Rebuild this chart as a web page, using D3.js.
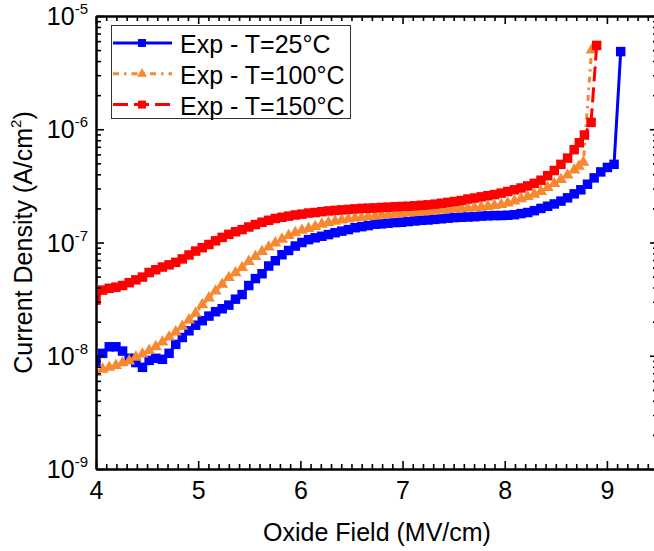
<!DOCTYPE html>
<html>
<head>
<meta charset="utf-8">
<script src="https://cdn.jsdelivr.net/npm/d3@7"></script>
<style>
body { margin: 0; background: #fff; }
svg text { font-family: "Liberation Sans", Arial, sans-serif; fill: #000; }
</style>
</head>
<body>
<div id="chart"></div>
<script>
// oxide field grid (MV/cm), shared by the three sweeps
var fieldGrid = [
	4.000, 4.065, 4.130, 4.195, 4.260, 4.325, 4.390, 4.455, 4.520, 4.585,
	4.650, 4.715, 4.780, 4.845, 4.910, 4.975, 5.040, 5.105, 5.170, 5.235,
	5.300, 5.365, 5.430, 5.495, 5.560, 5.625, 5.690, 5.755, 5.820, 5.885,
	5.950, 6.015, 6.080, 6.145, 6.210, 6.275, 6.340, 6.405, 6.470, 6.535,
	6.600, 6.665, 6.730, 6.795, 6.860, 6.925, 6.990, 7.055, 7.120, 7.185,
	7.250, 7.315, 7.380, 7.445, 7.510, 7.575, 7.640, 7.705, 7.770, 7.835,
	7.900, 7.965, 8.030, 8.095, 8.160, 8.225, 8.290, 8.355, 8.420, 8.485,
	8.550, 8.615, 8.680, 8.745, 8.810, 8.875, 8.940, 9.005, 9.070, 9.135
];

// current density (A/cm2)
var j25 = [
	8.9e-9, 1.05e-8, 1.2e-8, 1.2e-8, 1.1e-8, 9.5e-9, 8.7e-9, 7.9e-9, 9.1e-9, 9.5e-9,
	9.3e-9, 1.05e-8, 1.26e-8, 1.45e-8, 1.66e-8, 1.86e-8, 2.04e-8, 2.24e-8, 2.45e-8, 2.6e-8,
	2.8e-8, 3.16e-8, 3.47e-8, 4.17e-8, 4.8e-8, 5.3e-8, 6.2e-8, 6.9e-8, 7.8e-8, 8.5e-8,
	9.3e-8, 1.0e-7, 1.06e-7, 1.1e-7, 1.135e-7, 1.175e-7, 1.22e-7, 1.26e-7, 1.30e-7, 1.35e-7,
	1.38e-7, 1.41e-7, 1.45e-7, 1.46e-7, 1.48e-7, 1.50e-7, 1.51e-7, 1.53e-7, 1.55e-7, 1.57e-7,
	1.58e-7, 1.60e-7, 1.62e-7, 1.64e-7, 1.66e-7, 1.67e-7, 1.68e-7, 1.69e-7, 1.71e-7, 1.72e-7,
	1.73e-7, 1.73e-7, 1.74e-7, 1.76e-7, 1.80e-7, 1.84e-7, 1.91e-7, 2.0e-7, 2.09e-7, 2.19e-7,
	2.32e-7, 2.48e-7, 2.69e-7, 2.92e-7, 3.27e-7, 3.72e-7, 4.2e-7, 4.6e-7, 4.9e-7, 4.85e-6
];
var j100 = [
	7.1e-9, 7.6e-9, 7.9e-9, 8.2e-9, 8.65e-9, 9.0e-9, 9.7e-9, 1.035e-8, 1.11e-8, 1.2e-8,
	1.32e-8, 1.46e-8, 1.62e-8, 1.82e-8, 2.07e-8, 2.37e-8, 2.82e-8, 3.24e-8, 3.72e-8, 4.27e-8,
	4.9e-8, 5.4e-8, 6.0e-8, 6.8e-8, 7.5e-8, 8.3e-8, 9.1e-8, 9.9e-8, 1.07e-7, 1.15e-7,
	1.22e-7, 1.28e-7, 1.33e-7, 1.38e-7, 1.45e-7, 1.50e-7, 1.54e-7, 1.58e-7, 1.61e-7, 1.64e-7,
	1.66e-7, 1.69e-7, 1.71e-7, 1.74e-7, 1.76e-7, 1.78e-7, 1.80e-7, 1.82e-7, 1.84e-7, 1.86e-7,
	1.88e-7, 1.90e-7, 1.93e-7, 1.95e-7, 1.97e-7, 1.99e-7, 2.0e-7, 2.03e-7, 2.05e-7, 2.08e-7,
	2.12e-7, 2.16e-7, 2.23e-7, 2.32e-7, 2.43e-7, 2.54e-7, 2.66e-7, 2.82e-7, 3.05e-7, 3.31e-7,
	3.59e-7, 3.94e-7, 4.37e-7,
	4.7e-7, 5.1e-7, 5.0e-6
];
var j150 = [
	3.1e-8, 3.8e-8, 3.94e-8, 4.03e-8, 4.17e-8, 4.42e-8, 4.68e-8, 4.95e-8, 5.43e-8, 5.75e-8,
	6.07e-8, 6.35e-8, 6.68e-8, 7.16e-8, 7.76e-8, 8.4e-8, 9.0e-8, 9.6e-8, 1.035e-7, 1.11e-7,
	1.18e-7, 1.245e-7, 1.30e-7, 1.37e-7, 1.44e-7, 1.51e-7, 1.57e-7, 1.63e-7, 1.67e-7, 1.71e-7,
	1.75e-7, 1.78e-7, 1.82e-7, 1.84e-7, 1.87e-7, 1.90e-7, 1.92e-7, 1.94e-7, 1.96e-7, 1.98e-7,
	2.0e-7, 2.01e-7, 2.02e-7, 2.04e-7, 2.05e-7, 2.07e-7, 2.08e-7, 2.09e-7, 2.11e-7, 2.13e-7,
	2.15e-7, 2.18e-7, 2.22e-7, 2.26e-7, 2.30e-7, 2.35e-7, 2.42e-7, 2.47e-7, 2.53e-7, 2.59e-7,
	2.65e-7, 2.73e-7, 2.82e-7, 2.92e-7, 3.03e-7, 3.16e-7, 3.33e-7, 3.55e-7, 3.89e-7, 4.32e-7,
	4.9e-7, 5.56e-7, 6.6e-7,
	7.6e-7, 8.9e-7, 1.15e-6, 5.5e-6
];
// the 100 and 150 sweeps leave the grid near breakdown
var tail100 = [8.725, 8.770, 8.850];
var tail150 = [8.730, 8.780, 8.845, 8.900];

var labels = ["Exp - T=25°C", "Exp - T=100°C", "Exp - T=150°C"];
var xTicks = [4, 5, 6, 7, 8, 9];
var yDecades = [-9, -8, -7, -6, -5];

var width = 654, height = 551;
var padLeft = 96, padTop = 16, plotW = 562, plotH = 453;

var svg = d3.select("#chart").append("svg")
	.attr("width", width)
	.attr("height", height);

var x = d3.scaleLinear().domain([4, 9.5]).range([padLeft, padLeft + plotW]);
var y = d3.scaleLog().domain([1e-9, 1e-5]).range([padTop + plotH, padTop]);

var series = [
	{label: labels[0], fields: fieldGrid, values: j25, color: "#0000ff", dash: null, shape: d3.symbolSquare, size: 90},
	{label: labels[1], fields: fieldGrid.slice(0, 73).concat(tail100), values: j100, color: "#f7882f", dash: "6,5,2.5,5", shape: d3.symbolTriangle, size: 62},
	{label: labels[2], fields: fieldGrid.slice(0, 73).concat(tail150), values: j150, color: "#ff0000", dash: "15,6", shape: d3.symbolSquare, size: 90}
];

svg.append("clipPath").attr("id", "clip")
	.append("rect")
	.attr("x", padLeft).attr("y", padTop)
	.attr("width", plotW).attr("height", plotH);

var plot = svg.append("g").attr("clip-path", "url(#clip)");

var line = d3.line()
	.x(function(d) { return x(d[0]); })
	.y(function(d) { return y(d[1]); });

series.forEach(function(s) {
	var pts = d3.zip(s.fields, s.values);
	var g = plot.append("g");
	g.append("path")
		.datum(pts)
		.attr("d", line)
		.attr("fill", "none")
		.attr("stroke", s.color)
		.attr("stroke-width", 3)
		.attr("stroke-dasharray", s.dash);
	g.selectAll("path.pt")
		.data(pts)
		.enter()
		.append("path")
		.attr("class", "pt")
		.attr("d", d3.symbol().type(s.shape).size(s.size))
		.attr("transform", function(d) { return "translate(" + x(d[0]) + "," + y(d[1]) + ")"; })
		.attr("fill", s.color);
});

// axes, ticks pointing inward on all four sides
var minorX = d3.range(40, 96).map(function(v) { return v / 10; }).filter(function(v) { return v % 1 !== 0; });
var minorY = [];
yDecades.slice(0, 4).forEach(function(p) {
	for (var m = 2; m < 10; m++) minorY.push(m * Math.pow(10, p));
});
var majorY = yDecades.map(function(p) { return Math.pow(10, p); });

function styleAxis(g) {
	g.selectAll("path.domain").attr("stroke", "#000").attr("stroke-width", 2);
	g.selectAll(".tick line").attr("stroke", "#000").attr("stroke-width", 1.6);
}

svg.append("g")
	.attr("transform", "translate(0," + (padTop + plotH) + ")")
	.call(d3.axisBottom(x).tickValues(minorX).tickSizeInner(-5).tickSizeOuter(0).tickFormat(""))
	.call(styleAxis);
svg.append("g")
	.attr("transform", "translate(0," + (padTop + plotH) + ")")
	.call(d3.axisBottom(x).tickValues(xTicks).tickSizeInner(-8).tickSizeOuter(0).tickPadding(12).tickFormat(d3.format("d")))
	.call(styleAxis)
	.selectAll("text")
	.attr("font-size", 25);

svg.append("g")
	.attr("transform", "translate(0," + padTop + ")")
	.call(d3.axisTop(x).tickValues(minorX).tickSizeInner(-5).tickSizeOuter(0).tickFormat(""))
	.call(styleAxis);
svg.append("g")
	.attr("transform", "translate(0," + padTop + ")")
	.call(d3.axisTop(x).tickValues(xTicks).tickSizeInner(-8).tickSizeOuter(0).tickFormat(""))
	.call(styleAxis);

svg.append("g")
	.attr("transform", "translate(" + padLeft + ",0)")
	.call(d3.axisLeft(y).tickValues(minorY).tickSizeInner(-5).tickSizeOuter(0).tickFormat(""))
	.call(styleAxis);
svg.append("g")
	.attr("transform", "translate(" + padLeft + ",0)")
	.call(d3.axisLeft(y).tickValues(majorY).tickSizeInner(-8).tickSizeOuter(0).tickFormat(""))
	.call(styleAxis);

svg.append("g")
	.attr("transform", "translate(" + (padLeft + plotW) + ",0)")
	.call(d3.axisRight(y).tickValues(minorY).tickSizeInner(-5).tickSizeOuter(0).tickFormat(""))
	.call(styleAxis);
svg.append("g")
	.attr("transform", "translate(" + (padLeft + plotW) + ",0)")
	.call(d3.axisRight(y).tickValues(majorY).tickSizeInner(-8).tickSizeOuter(0).tickFormat(""))
	.call(styleAxis);

// y tick labels as 10^n
var yLab = svg.append("g").selectAll("text")
	.data(yDecades)
	.enter()
	.append("text")
	.attr("x", padLeft - 8)
	.attr("y", function(p) { return y(Math.pow(10, p)) + 9; })
	.attr("text-anchor", "end")
	.attr("font-size", 25);
yLab.append("tspan").text("10");
yLab.append("tspan")
	.attr("font-size", 15)
	.attr("dy", -11)
	.text(function(p) { return "-" + (-p); });

// axis titles
svg.append("text")
	.attr("x", padLeft + plotW / 2)
	.attr("y", 541)
	.attr("text-anchor", "middle")
	.attr("font-size", 25)
	.text("Oxide Field (MV/cm)");

var yt = svg.append("text")
	.attr("transform", "translate(32," + (padTop + plotH / 2) + ") rotate(-90)")
	.attr("text-anchor", "middle")
	.attr("font-size", 25);
yt.append("tspan").text("Current Density (A/cm");
yt.append("tspan").attr("font-size", 15).attr("dy", -11).text("2");
yt.append("tspan").attr("dy", 11).text(")");

// legend
var legend = svg.append("g");
legend.append("rect")
	.attr("x", 111.5).attr("y", 25.5)
	.attr("width", 239).attr("height", 93)
	.attr("fill", "#fff")
	.attr("stroke", "#333")
	.attr("stroke-width", 1);

var rows = legend.selectAll("g.row")
	.data(series)
	.enter()
	.append("g")
	.attr("class", "row")
	.attr("transform", function(d, i) { return "translate(0," + (43 + i * 30.8) + ")"; });
rows.append("line")
	.attr("x1", 113).attr("x2", 172)
	.attr("stroke", function(d) { return d.color; })
	.attr("stroke-width", 3)
	.attr("stroke-dasharray", function(d) { return d.dash; });
rows.append("path")
	.attr("d", function(d) { return d3.symbol().type(d.shape).size(d.size * 0.7)(); })
	.attr("transform", "translate(142,0)")
	.attr("fill", function(d) { return d.color; });
rows.append("text")
	.attr("x", 180)
	.attr("y", 10)
	.attr("font-size", 25)
	.text(function(d) { return d.label; });
</script>
</body>
</html>
